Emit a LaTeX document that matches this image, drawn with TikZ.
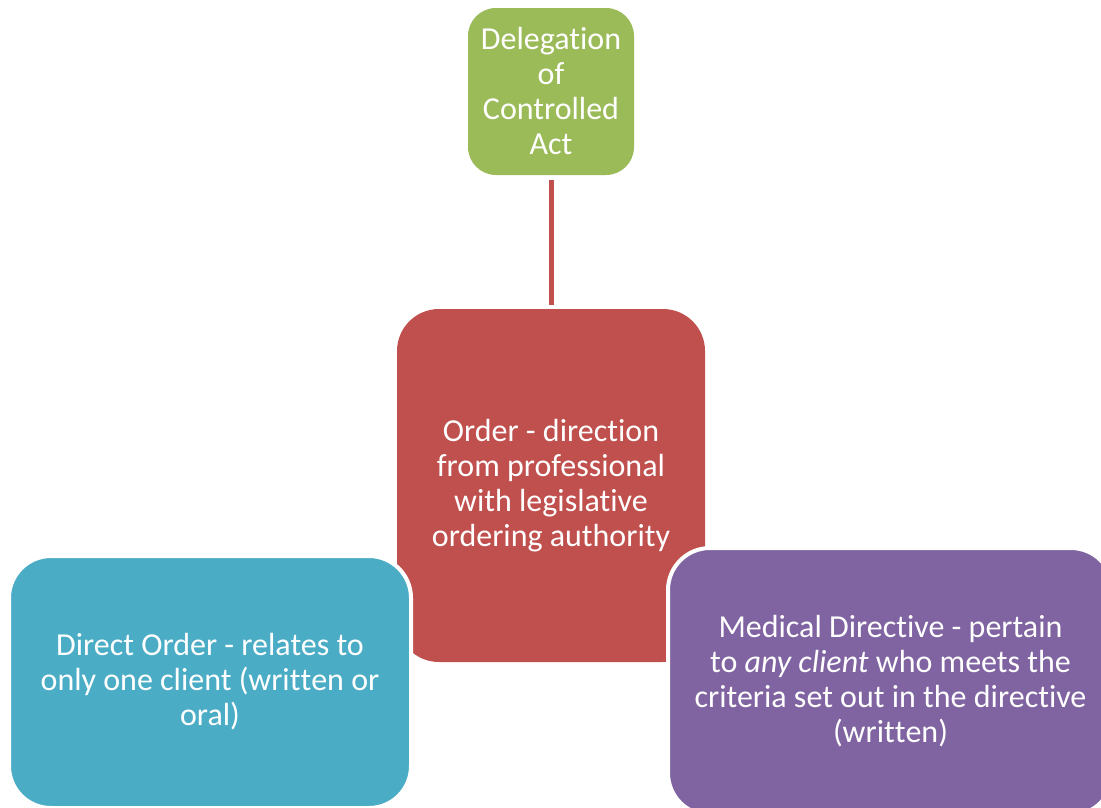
\documentclass[tikz,border=0pt]{standalone}
\usepackage{fontspec}
\setmainfont{Carlito}[Ligatures={NoCommon}]
\newcommand{\nolig}{\kern0pt}
\definecolor{cgreen}{HTML}{9BBB59}
\definecolor{cred}{HTML}{C0504D}
\definecolor{cblue}{HTML}{4BACC6}
\definecolor{cpurple}{HTML}{8064A2}
\tikzset{
  box/.style={rounded corners=#1, inner sep=0pt, align=center, text=white,
    font=\fontsize{32}{35}\selectfont},
  link/.style={draw=cred, line width=5pt}
}
\begin{document}
\begin{tikzpicture}[x=1pt,y=-1pt]
\useasboundingbox (0,0) rectangle (1101,807);
\clip (0,0) rectangle (1101,807);
\node[box=28pt, fill=cgreen, minimum width=166pt, minimum height=167pt] (deleg) at (551,91.5)
  {Delegat\nolig ion\\of\\Controlled\\Act};
\node[box=42pt, fill=cred, minimum width=308pt, minimum height=353pt] (order) at (551,485.5)
  {Order - direct\nolig ion\\from professional\\with legislat\nolig ive\\ordering authority};
\draw[link, shorten <=5pt, shorten >=4pt] (deleg.south) -- (order.north);
\node[box=42pt, fill=cblue, draw=white, line width=4pt, minimum width=402pt, minimum height=252pt] (direct) at (210,682)
  {Direct Order - relates to\\only one client (writ\nolig t\nolig en or\\oral)};
\node[box=42pt, fill=cpurple, draw=white, line width=4pt, minimum width=445pt, minimum height=267pt] (medical) at (890.5,681.5)
  {Medical Direct\nolig ive - pertain\\to \textit{any client} who meets the\\criteria set out in the direct\nolig ive\\(writ\nolig t\nolig en)};
\end{tikzpicture}
\end{document}
